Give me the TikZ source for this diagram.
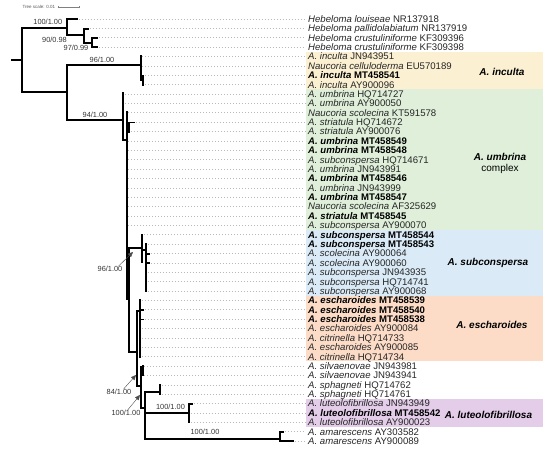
\documentclass[tikz,border=0pt]{standalone}
\usepackage{fontspec}
\setmainfont{Liberation Sans}
\usetikzlibrary{arrows.meta}
\definecolor{cinc}{HTML}{FCF0D2}
\definecolor{cumb}{HTML}{DFEFDA}
\definecolor{csub}{HTML}{DAEBF7}
\definecolor{cesc}{HTML}{FCDCC7}
\definecolor{clut}{HTML}{E3CDE9}
\definecolor{lbl}{HTML}{333333}
\newcommand\leafit[2]{\textit{#1} #2}
\newcommand\leafbf[2]{\textcolor{black}{\textbf{\textit{#1} #2}}}
\tikzset{
  br/.style={line width=1.7pt, line cap=rect, line join=miter, black},
  dotl/.style={gray!55, line width=0.6pt, dash pattern=on 1pt off 2pt},
  leaf/.style={anchor=base west, inner sep=0pt, text=black!85, font=\fontsize{9.6}{10}\selectfont},
  clade/.style={inner sep=0pt, font=\fontsize{10}{11}\selectfont\bfseries\itshape},
  blab/.style={inner sep=0pt, text=lbl, font=\fontsize{7.4}{8}\selectfont},
  parrow/.style={-{Triangle[length=5pt,width=4.5pt]}, line width=0.4pt, gray!60!black},
  cbox/.style={draw=none}
}
\begin{document}
\begin{tikzpicture}[x=1pt,y=-1pt]
\useasboundingbox (0,0) rectangle (550,454);
% clade boxes
\fill[cinc] (306,51.83) rectangle (543,89.35);
\fill[cumb] (306,89.35) rectangle (543,230.05);
\fill[csub] (306,230.05) rectangle (543,295.71);
\fill[cesc] (306,295.71) rectangle (543,361.37);
\fill[clut] (306,398.89) rectangle (543,427.03);
% tree scale
\node[inner sep=0pt, text=gray!70!black, font=\fontsize{4.5}{5}\selectfont] (ts) at (38.8,7.3) {Tree scale: 0.01};
\coordinate (sa) at (57.7,7.3);
\coordinate (sb) at (79,7.3);
\draw[gray, line width=0.4pt] (sa) -- (sb);
\draw[gray, line width=0.4pt] ([yshift=-1pt]sa) -- ([yshift=1pt]sa) ([yshift=-1pt]sb) -- ([yshift=1pt]sb);
% leaves
\foreach \i/\tx/\txt in {
1/77/{\leafit{Hebeloma louiseae}{NR137918}},
2/88/{\leafit{Hebeloma pallidolabiatum}{NR137919}},
3/97/{\leafit{Hebeloma crustuliniforme}{KF309396}},
4/97/{\leafit{Hebeloma crustuliniforme}{KF309398}},
5/140.7/{\leafit{A. inculta}{JN943951}},
6/140.7/{\leafit{Naucoria celluloderma}{EU570189}},
7/143.3/{\leafbf{A. inculta}{MT458541}},
8/143.3/{\leafit{A. inculta}{AY900096}},
9/123.3/{\leafit{A. umbrina}{HQ714727}},
10/123.3/{\leafit{A. umbrina}{AY900050}},
11/126.7/{\leafit{Naucoria scolecina}{KT591578}},
12/134/{\leafit{A. striatula}{HQ714672}},
13/129/{\leafit{A. striatula}{AY900076}},
14/126.7/{\leafbf{A. umbrina}{MT458549}},
15/126.7/{\leafbf{A. umbrina}{MT458548}},
16/126.7/{\leafit{A. subconspersa}{HQ714671}},
17/126.7/{\leafit{A. umbrina}{JN943991}},
18/126.7/{\leafbf{A. umbrina}{MT458546}},
19/126.7/{\leafit{A. umbrina}{JN943999}},
20/126.7/{\leafbf{A. umbrina}{MT458547}},
21/126.7/{\leafit{Naucoria scolecina}{AF325629}},
22/126.7/{\leafbf{A. striatula}{MT458545}},
23/126.7/{\leafit{A. subconspersa}{AY900070}},
24/142.3/{\leafbf{A. subconspersa}{MT458544}},
25/146/{\leafbf{A. subconspersa}{MT458543}},
26/149/{\leafit{A. scolecina}{AY900064}},
27/149/{\leafit{A. scolecina}{AY900060}},
28/146/{\leafit{A. subconspersa}{JN943935}},
29/146/{\leafit{A. subconspersa}{HQ714741}},
30/146/{\leafit{A. subconspersa}{AY900068}},
31/140/{\leafbf{A. escharoides}{MT458539}},
32/143/{\leafbf{A. escharoides}{MT458540}},
33/143/{\leafbf{A. escharoides}{MT458538}},
34/140/{\leafit{A. escharoides}{AY900084}},
35/140/{\leafit{A. citrinella}{HQ714733}},
36/140/{\leafit{A. escharoides}{AY900085}},
37/140/{\leafit{A. citrinella}{HQ714734}},
38/142.7/{\leafit{A. silvaenovae}{JN943981}},
39/142.7/{\leafit{A. silvaenovae}{JN943941}},
40/160/{\leafit{A. sphagneti}{HQ714762}},
41/160/{\leafit{A. sphagneti}{HQ714761}},
42/192/{\leafit{A. luteolofibrillosa}{JN943949}},
43/189/{\leafbf{A. luteolofibrillosa}{MT458542}},
44/189/{\leafit{A. luteolofibrillosa}{AY900023}},
45/283/{\leafit{A. amarescens}{AY303582}},
46/293/{\leafit{A. amarescens}{AY900089}}}{
  \pgfmathsetmacro\yy{19+(\i-1)*9.38}
  \node[leaf] (l\i) at (308,\yy+3.4) {\txt};
  \draw[dotl] (\tx+1.5,\yy) -- (305,\yy);
}
% tree: root
\draw[br] (12,60) -- (22,60);
\draw[br] (67,28) -- (22,28) -- (22,92) -- (67,92);
% Hebeloma
\draw[br] (77,19) -- (67,19) -- (67,35) -- (84,35);
\draw[br] (88,29) -- (84,29) -- (84,43) -- (92,43);
\draw[br] (97,38) -- (92,38) -- (92,47) -- (97,47);
% lower main
\draw[br] (140.7,65) -- (67,65) -- (67,120) -- (123.3,120);
% inculta
\draw[br] (140.7,56) -- (140.7,80.5) -- (143.3,80.5);
\draw[br] (143.3,76) -- (143.3,85);
% umbrina
\draw[br] (123.3,93) -- (123.3,140) -- (126.7,140);
\draw[br] (126.7,112) -- (126.7,299) -- (129.3,299);
\draw[br] (126.7,127) -- (129,127);
\draw[br] (134,122.5) -- (129,122.5) -- (129,132);
% subconspersa
\draw[br] (142.3,248) -- (129.3,248) -- (129.3,352) -- (136.7,352);
\draw[br] (142.3,235) -- (142.3,262);
\draw[br] (142.3,250) -- (146,250);
\draw[br] (146,244) -- (146,291);
\draw[br] (146,254) -- (149,254);
\draw[br] (146,263) -- (149,263);
% escharoides and below
\draw[br] (140,311) -- (136.7,311) -- (136.7,386) -- (140.7,386);
\draw[br] (140,300) -- (140,357);
\draw[br] (140,310) -- (143,310);
\draw[br] (140,319.5) -- (143,319.5);
\draw[br] (140.7,367) -- (140.7,408) -- (145,408);
\draw[br] (140.7,370.5) -- (142.7,370.5);
\draw[br] (142.7,366) -- (142.7,375);
\draw[br] (160,392) -- (145,392) -- (145,439) -- (280,439);
\draw[br] (160,385) -- (160,394);
\draw[br] (145,413) -- (189,413);
\draw[br] (192,404) -- (189,404) -- (189,422);
\draw[br] (283,432) -- (280,432) -- (280,441) -- (293,441);
% branch support labels
\node[blab] (b1) at (47.8,22.3) {100/1.00};
\node[blab] (b2) at (54.5,40) {90/0.98};
\node[blab] (b3) at (76,48) {97/0.99};
\node[blab] (b4) at (102,60) {96/1.00};
\node[blab] (b5) at (95,115) {94/1.00};
\node[blab] (b6) at (110,269) {96/1.00};
\node[blab] (b7) at (119,392) {84/1.00};
\node[blab] (b8) at (126,413) {100/1.00};
\node[blab] (b9) at (170.5,407) {100/1.00};
\node[blab] (b10) at (205,432) {100/1.00};
\coordinate (n6) at (133,252);
\coordinate (n7) at (136,375);
\coordinate (n8) at (140,395);
\draw[parrow] (b6.north east) ++(-4,0) -- (n6);
\draw[parrow] (b7.north east) ++(-8,0) -- (n7);
\draw[parrow] (b8.north east) ++(-13,0) -- (n8);
% clade labels
\node[clade] (c1) at (502,72) {A. inculta};
\node[clade] (c2) at (500,157) {A. umbrina};
\node[inner sep=0pt, font=\fontsize{10}{11}\selectfont] (c2b) at (500,168.5) {complex};
\node[clade] (c3) at (488,263) {A. subconspersa};
\node[clade] (c4) at (492,325) {A. escharoides};
\node[clade] (c5) at (488.5,415) {A. luteolofibrillosa};
\end{tikzpicture}
\end{document}
